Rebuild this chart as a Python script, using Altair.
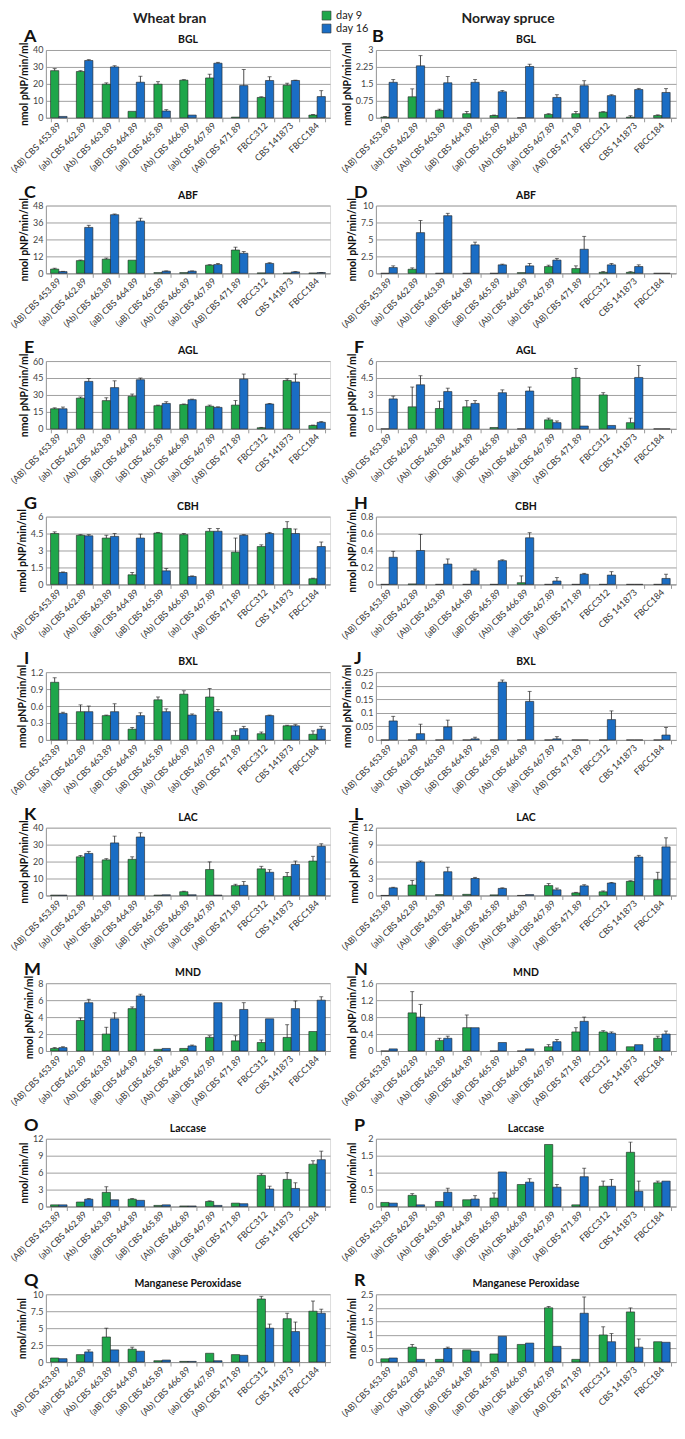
import altair as alt
import pandas as pd

STRAINS = ["(AB) CBS 453.89", "(ab) CBS 462.89", "(Ab) CBS 463.89", "(aB) CBS 464.89",
           "(aB) CBS 465.89", "(Ab) CBS 466.89", "(ab) CBS 467.89", "(AB) CBS 471.89",
           "FBCC312", "CBS 141873", "FBCC184"]
DAYS = ["day 9", "day 16"]
COLORS = ["#1fa64a", "#1a6dc4"]

# ---- Wheat bran ----
BGL_WB_D9 = [27.8, 27.3, 19.8, 3.8, 19.8, 22.2, 23.5, 0.4, 12.0, 19.2, 1.6]
BGL_WB_D9_ERR = [1.2, 0.5, 0.8, 0, 1.5, 0.3, 2.2, 0, 0.4, 1.2, 0.3]
BGL_WB_D16 = [0.8, 33.8, 30.0, 21.0, 4.0, 1.6, 32.2, 19.0, 22.0, 22.0, 12.5]
BGL_WB_D16_ERR = [0, 0.5, 0.7, 3.5, 0.8, 0, 0.5, 9.5, 2.2, 0.2, 3.5]

ABF_WB_D9 = [3.0, 9.0, 10.0, 9.3, 0.5, 0.5, 5.8, 16.5, 0.3, 0.2, 0.2]
ABF_WB_D9_ERR = [0.6, 0.4, 0.8, 0, 0, 0, 0.3, 2.0, 0, 0, 0]
ABF_WB_D16 = [1.2, 32.5, 41.5, 37.0, 1.5, 1.5, 6.2, 14.2, 7.0, 1.0, 0.5]
ABF_WB_D16_ERR = [0.2, 1.5, 0.5, 2.0, 0.2, 0.2, 0.8, 1.2, 0.5, 0.2, 0.1]

AGL_WB_D9 = [17.8, 27.2, 25.0, 28.8, 20.5, 21.5, 20.0, 21.0, 1.0, 42.8, 3.0]
AGL_WB_D9_ERR = [0.8, 1.0, 2.5, 2.0, 0.5, 0.5, 1.0, 4.0, 0.3, 1.5, 0.3]
AGL_WB_D16 = [17.8, 42.0, 36.5, 43.5, 22.5, 25.8, 19.0, 44.0, 22.0, 41.5, 5.8]
AGL_WB_D16_ERR = [1.5, 2.5, 6.0, 1.5, 1.5, 0.5, 0.5, 4.5, 0.5, 7.0, 0.6]

CBH_WB_D9 = [4.5, 4.35, 4.1, 0.85, 4.55, 4.4, 4.7, 2.85, 3.35, 4.95, 0.5]
CBH_WB_D9_ERR = [0.15, 0.05, 0.25, 0.2, 0.05, 0.1, 0.25, 1.25, 0.15, 0.6, 0.05]
CBH_WB_D16 = [1.05, 4.3, 4.25, 4.1, 1.2, 0.7, 4.7, 4.35, 4.5, 4.5, 3.35]
CBH_WB_D16_ERR = [0.05, 0.1, 0.25, 0.35, 0.2, 0.05, 0.25, 0.05, 0.1, 0.4, 0.4]

BXL_WB_D9 = [1.02, 0.5, 0.43, 0.19, 0.71, 0.81, 0.76, 0.08, 0.11, 0.25, 0.1]
BXL_WB_D9_ERR = [0.08, 0.12, 0.01, 0.03, 0.05, 0.06, 0.15, 0.08, 0.03, 0.01, 0.06]
BXL_WB_D16 = [0.47, 0.5, 0.5, 0.43, 0.5, 0.44, 0.5, 0.2, 0.43, 0.25, 0.19]
BXL_WB_D16_ERR = [0.02, 0.1, 0.14, 0.05, 0.05, 0.02, 0.04, 0.04, 0.01, 0.02, 0.05]

LAC_WB_D9 = [0.2, 22.8, 21.0, 21.3, 0.2, 2.2, 15.3, 5.8, 15.7, 11.2, 20.3]
LAC_WB_D9_ERR = [0, 0.8, 0.7, 1.5, 0, 0.3, 4.5, 0.8, 1.5, 2.3, 2.8]
LAC_WB_D16 = [0.2, 24.8, 31.0, 34.5, 0.4, 0.4, 0.2, 6.0, 13.7, 18.3, 29.0]
LAC_WB_D16_ERR = [0, 1.2, 4.0, 2.5, 0, 0, 0, 2.2, 1.5, 2.0, 1.5]

MND_WB_D9 = [0.3, 3.6, 2.0, 5.0, 0.2, 0.3, 1.6, 1.2, 1.0, 1.6, 2.3]
MND_WB_D9_ERR = [0.1, 0.3, 0.8, 0.2, 0, 0, 0.2, 0.6, 0.3, 1.5, 0]
MND_WB_D16 = [0.4, 5.7, 3.8, 6.5, 0.3, 0.6, 5.7, 4.9, 3.8, 5.0, 6.0]
MND_WB_D16_ERR = [0.1, 0.4, 0.7, 0.2, 0, 0.1, 0, 0.8, 0, 0.9, 0.4]

LCS_WB_D9 = [0.3, 0.8, 2.5, 1.3, 0.2, 0.1, 0.9, 0.6, 5.5, 4.8, 7.5]
LCS_WB_D9_ERR = [0, 0, 1.0, 0.1, 0, 0, 0.1, 0, 0.3, 1.2, 0.6]
LCS_WB_D16 = [0.3, 1.3, 1.2, 1.1, 0.3, 0.1, 0.2, 0.5, 3.1, 3.2, 8.3]
LCS_WB_D16_ERR = [0, 0.1, 0, 0, 0, 0, 0, 0, 0.5, 1.0, 1.5]

MNP_WB_D9 = [0.6, 1.1, 3.7, 1.9, 0.2, 0.1, 1.3, 1.1, 9.3, 6.4, 7.5]
MNP_WB_D9_ERR = [0, 0, 1.3, 0.3, 0, 0, 0, 0, 0.4, 0.8, 1.5]
MNP_WB_D16 = [0.5, 1.5, 1.8, 1.6, 0.3, 0.1, 0.2, 1.0, 5.0, 4.5, 7.2]
MNP_WB_D16_ERR = [0, 0.3, 0, 0, 0, 0, 0, 0, 0.6, 1.4, 0.6]

# ---- Norway spruce ----
BGL_NS_D9 = [0.03, 0.93, 0.33, 0.18, 0.1, 0, 0.15, 0.18, 0.25, 0.03, 0.1]
BGL_NS_D9_ERR = [0.02, 0.35, 0.05, 0.1, 0.02, 0, 0.03, 0.1, 0.02, 0.06, 0.03]
BGL_NS_D16 = [1.57, 2.3, 1.55, 1.57, 1.15, 2.27, 0.9, 1.42, 0.98, 1.25, 1.12]
BGL_NS_D16_ERR = [0.12, 0.45, 0.28, 0.12, 0.06, 0.1, 0.12, 0.22, 0.04, 0.05, 0.17]

ABF_NS_D9 = [0, 0.6, 0, 0, 0, 0.1, 1.0, 0.7, 0.15, 0.15, 0]
ABF_NS_D9_ERR = [0, 0.2, 0, 0, 0, 0, 0.2, 0.4, 0.1, 0.1, 0]
ABF_NS_D16 = [0.85, 6.0, 8.5, 4.2, 1.25, 1.1, 1.95, 3.55, 1.25, 1.0, 0]
ABF_NS_D16_ERR = [0.25, 1.8, 0.35, 0.4, 0.1, 0.35, 0.25, 1.9, 0.2, 0.25, 0]

AGL_NS_D9 = [0, 1.95, 1.8, 1.95, 0.12, 0, 0.8, 4.55, 3.0, 0.55, 0]
AGL_NS_D9_ERR = [0, 1.75, 0.65, 0.55, 0, 0, 0.15, 0.8, 0.2, 0.4, 0]
AGL_NS_D16 = [2.65, 3.9, 3.3, 2.25, 3.2, 3.35, 0.55, 0.25, 0.3, 4.55, 0]
AGL_NS_D16_ERR = [0.25, 0.8, 0.3, 0.25, 0.25, 0.35, 0.15, 0, 0, 1.05, 0]

CBH_NS_D9 = [0, 0.005, 0, 0, 0, 0.02, 0, 0, 0, 0, 0]
CBH_NS_D9_ERR = [0, 0, 0, 0, 0, 0.08, 0, 0, 0, 0, 0]
CBH_NS_D16 = [0.32, 0.4, 0.24, 0.16, 0.28, 0.55, 0.04, 0.12, 0.11, 0, 0.07]
CBH_NS_D16_ERR = [0.07, 0.19, 0.06, 0.02, 0.01, 0.06, 0.04, 0.01, 0.04, 0, 0.05]

BXL_NS_D9 = [0, 0, 0, 0, 0, 0, 0, 0, 0, 0, 0]
BXL_NS_D9_ERR = [0, 0, 0, 0, 0, 0, 0, 0, 0, 0, 0]
BXL_NS_D16 = [0.07, 0.023, 0.048, 0.004, 0.213, 0.142, 0.004, 0, 0.075, 0, 0.018]
BXL_NS_D16_ERR = [0.017, 0.035, 0.025, 0.006, 0.008, 0.037, 0.008, 0, 0.032, 0, 0.028]

LAC_NS_D9 = [0, 1.85, 0.15, 0.2, 0.1, 0, 1.75, 0.45, 0.65, 2.5, 2.8]
LAC_NS_D9_ERR = [0, 0.8, 0, 0, 0, 0, 0.35, 0.1, 0.15, 0.1, 1.3]
LAC_NS_D16 = [1.35, 5.9, 4.2, 3.0, 1.25, 0.15, 1.0, 1.7, 2.2, 6.8, 8.6]
LAC_NS_D16_ERR = [0.1, 0.2, 0.8, 0.2, 0.1, 0, 0.3, 0.2, 0.1, 0.3, 1.6]

MND_NS_D9 = [0, 0.9, 0.25, 0.55, 0, 0, 0.1, 0.45, 0.45, 0.1, 0.3]
MND_NS_D9_ERR = [0, 0.5, 0.05, 0.3, 0, 0, 0.05, 0.1, 0.03, 0, 0.05]
MND_NS_D16 = [0.05, 0.8, 0.3, 0.55, 0.2, 0.05, 0.22, 0.7, 0.42, 0.15, 0.4]
MND_NS_D16_ERR = [0, 0.3, 0.05, 0, 0, 0, 0.05, 0.1, 0.03, 0, 0.07]

LCS_NS_D9 = [0.12, 0.33, 0.15, 0.2, 0.25, 0.65, 1.83, 0.05, 0.6, 1.6, 0.7]
LCS_NS_D9_ERR = [0, 0.05, 0, 0, 0.15, 0, 0, 0, 0.15, 0.3, 0.05]
LCS_NS_D16 = [0.1, 0.05, 0.42, 0.22, 1.02, 0.72, 0.57, 0.88, 0.6, 0.45, 0.75]
LCS_NS_D16_ERR = [0, 0, 0.12, 0.1, 0, 0.1, 0.08, 0.25, 0.2, 0.3, 0]

MNP_NS_D9 = [0.12, 0.55, 0.1, 0.45, 0.3, 0.65, 2.0, 0.1, 1.0, 1.85, 0.75]
MNP_NS_D9_ERR = [0, 0.1, 0, 0, 0, 0, 0.05, 0, 0.3, 0.15, 0]
MNP_NS_D16 = [0.15, 0.1, 0.5, 0.4, 0.95, 0.7, 0.58, 1.8, 0.75, 0.55, 0.73]
MNP_NS_D16_ERR = [0, 0, 0.05, 0, 0, 0, 0, 0.6, 0.3, 0.3, 0]

Y_PNP = "nmol pNP/min/ml"
Y_NM = "nmol/min/ml"

LEFT = [
    ("A", "BGL", Y_PNP, [0, 10, 20, 30, 40], BGL_WB_D9, BGL_WB_D9_ERR, BGL_WB_D16, BGL_WB_D16_ERR),
    ("C", "ABF", Y_PNP, [0, 12, 24, 36, 48], ABF_WB_D9, ABF_WB_D9_ERR, ABF_WB_D16, ABF_WB_D16_ERR),
    ("E", "AGL", Y_PNP, [0, 15, 30, 45, 60], AGL_WB_D9, AGL_WB_D9_ERR, AGL_WB_D16, AGL_WB_D16_ERR),
    ("G", "CBH", Y_PNP, [0, 1.5, 3, 4.5, 6], CBH_WB_D9, CBH_WB_D9_ERR, CBH_WB_D16, CBH_WB_D16_ERR),
    ("I", "BXL", Y_PNP, [0, 0.3, 0.6, 0.9, 1.2], BXL_WB_D9, BXL_WB_D9_ERR, BXL_WB_D16, BXL_WB_D16_ERR),
    ("K", "LAC", Y_PNP, [0, 10, 20, 30, 40], LAC_WB_D9, LAC_WB_D9_ERR, LAC_WB_D16, LAC_WB_D16_ERR),
    ("M", "MND", Y_PNP, [0, 2, 4, 6, 8], MND_WB_D9, MND_WB_D9_ERR, MND_WB_D16, MND_WB_D16_ERR),
    ("O", "Laccase", Y_NM, [0, 3, 6, 9, 12], LCS_WB_D9, LCS_WB_D9_ERR, LCS_WB_D16, LCS_WB_D16_ERR),
    ("Q", "Manganese Peroxidase", Y_NM, [0, 2.5, 5, 7.5, 10], MNP_WB_D9, MNP_WB_D9_ERR, MNP_WB_D16, MNP_WB_D16_ERR),
]
RIGHT = [
    ("B", "BGL", Y_PNP, [0, 0.75, 1.5, 2.25, 3], BGL_NS_D9, BGL_NS_D9_ERR, BGL_NS_D16, BGL_NS_D16_ERR),
    ("D", "ABF", Y_PNP, [0, 2.5, 5, 7.5, 10], ABF_NS_D9, ABF_NS_D9_ERR, ABF_NS_D16, ABF_NS_D16_ERR),
    ("F", "AGL", Y_PNP, [0, 1.5, 3, 4.5, 6], AGL_NS_D9, AGL_NS_D9_ERR, AGL_NS_D16, AGL_NS_D16_ERR),
    ("H", "CBH", Y_PNP, [0, 0.2, 0.4, 0.6, 0.8], CBH_NS_D9, CBH_NS_D9_ERR, CBH_NS_D16, CBH_NS_D16_ERR),
    ("J", "BXL", Y_PNP, [0, 0.05, 0.1, 0.15, 0.2, 0.25], BXL_NS_D9, BXL_NS_D9_ERR, BXL_NS_D16, BXL_NS_D16_ERR),
    ("L", "LAC", Y_PNP, [0, 3, 6, 9, 12], LAC_NS_D9, LAC_NS_D9_ERR, LAC_NS_D16, LAC_NS_D16_ERR),
    ("N", "MND", Y_PNP, [0, 0.4, 0.8, 1.2, 1.6], MND_NS_D9, MND_NS_D9_ERR, MND_NS_D16, MND_NS_D16_ERR),
    ("P", "Laccase", Y_NM, [0, 0.5, 1, 1.5, 2], LCS_NS_D9, LCS_NS_D9_ERR, LCS_NS_D16, LCS_NS_D16_ERR),
    ("R", "Manganese Peroxidase", Y_NM, [0, 0.5, 1, 1.5, 2, 2.5], MNP_NS_D9, MNP_NS_D9_ERR, MNP_NS_D16, MNP_NS_D16_ERR),
]

FONT = "Lato"
PH = 68


def panel(spec, width, show_legend):
    letter, name, ytitle, ticks, d9, e9, d16, e16 = spec
    rows = []
    for i, s in enumerate(STRAINS):
        rows.append({"strain": s, "day": "day 9", "value": d9[i], "err": e9[i], "top": d9[i] + e9[i]})
        rows.append({"strain": s, "day": "day 16", "value": d16[i], "err": e16[i], "top": d16[i] + e16[i]})
    df = pd.DataFrame(rows)
    x = alt.X("strain:N", sort=STRAINS, title=None,
              scale=alt.Scale(paddingInner=0.36, paddingOuter=0.18),
              axis=alt.Axis(labelAngle=-45, labelAlign="right", labelBaseline="middle",
                            labelFontSize=9, labelColor="#333", labelOverlap=False,
                            labelLimit=200, ticks=True, tickBand="extent", tickSize=4,
                            tickColor="#999", domainColor="#999", labelPadding=2,
                            labelFont=FONT))
    xo = alt.XOffset("day:N", sort=DAYS, scale=alt.Scale(paddingInner=0))
    ysc = alt.Scale(domain=[ticks[0], ticks[-1]], nice=False, zero=True)
    yaxis = alt.Axis(values=ticks, format=".6~g", grid=True,
                     gridColor="#a0a0a0", gridWidth=1, ticks=False, domainColor="#999",
                     labelFontSize=9, labelColor="#444", labelPadding=3,
                     labelOverlap=False, labelFlush=False,
                     titleFontSize=10.5, titleFontWeight="bold", titleColor="#111",
                     titlePadding=3, labelFont=FONT, titleFont=FONT)
    base = alt.Chart(df).encode(x=x, xOffset=xo)
    legend = alt.Legend(title=None, orient="none", legendX=276, legendY=-40,
                        symbolType="square", symbolSize=80, symbolStrokeColor="#333",
                        symbolStrokeWidth=0.6, labelFontSize=11, labelFont=FONT,
                        labelColor="#222", rowPadding=0) if show_legend else None
    bars = base.mark_bar(stroke="#222", strokeWidth=0.6).encode(
        y=alt.Y("value:Q", scale=ysc, title=ytitle, axis=yaxis),
        color=alt.Color("day:N", sort=DAYS,
                        scale=alt.Scale(domain=DAYS, range=COLORS), legend=legend),
    )
    errs = base.transform_filter("datum.err > 0")
    rule = errs.mark_rule(color="#222", strokeWidth=0.8).encode(
        y=alt.Y("value:Q", scale=ysc, axis=yaxis), y2="top:Q")
    cap = errs.mark_tick(color="#222", thickness=0.9, size=4, orient="horizontal").encode(
        y=alt.Y("top:Q", scale=ysc, axis=yaxis, title=ytitle))
    lx = -4 if letter == "B" else -22
    lab = alt.Chart(pd.DataFrame({"t": [letter]})).mark_text(
        fontSize=18, fontWeight="bold", align="left", baseline="alphabetic",
        font=FONT, color="#111").encode(
        text="t:N", x=alt.value(lx), y=alt.value(-8))
    ttl = alt.Chart(pd.DataFrame({"t": [name]})).mark_text(
        fontSize=10.5, fontWeight="bold", align="center", baseline="middle",
        font=FONT, color="#111").encode(
        text="t:N", x=alt.value(width / 2), y=alt.value(-10))
    return alt.layer(bars, rule, cap, lab, ttl).properties(width=width, height=PH)


left_col = alt.vconcat(*[panel(s, 285, i == 0) for i, s in enumerate(LEFT)], spacing=8).properties(
    title=alt.TitleParams("Wheat bran", fontSize=14, fontWeight="bold", anchor="middle",
                          font=FONT, color="#222", offset=2))
right_col = alt.vconcat(*[panel(s, 301, False) for s in RIGHT], spacing=8).properties(
    title=alt.TitleParams("Norway spruce", fontSize=14, fontWeight="bold", anchor="middle",
                          font=FONT, color="#222", offset=2))

chart = alt.hconcat(left_col, right_col, spacing=8).properties(
    padding={"left": 0, "top": 0, "right": 0, "bottom": 0}
).configure_view(stroke=None).configure(font=FONT)

chart.save("out.html", embed_options={"renderer": "svg", "actions": False})
